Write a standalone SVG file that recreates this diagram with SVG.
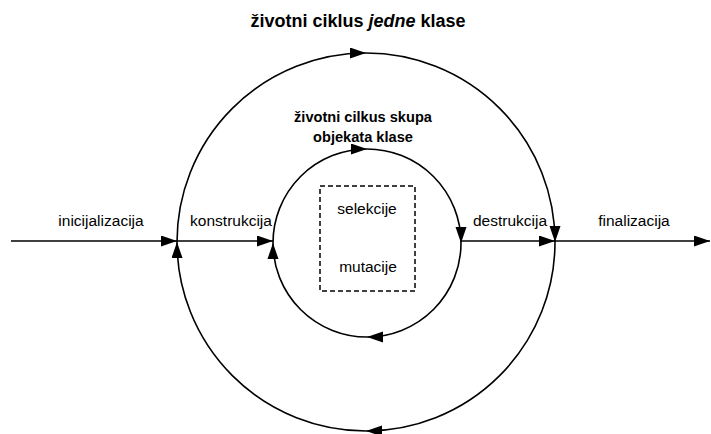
<svg xmlns="http://www.w3.org/2000/svg" width="711" height="434" viewBox="0 0 711 434">
<style>
text{font-family:"Liberation Sans",Arial,sans-serif;fill:#000}
.lbl{font-size:15.5px;text-anchor:middle}
.ttl{font-weight:bold;text-anchor:middle}
.ln{fill:none;stroke:#000;stroke-width:1.6}
</style>
<defs>
<marker id="ah" markerUnits="userSpaceOnUse" markerWidth="18" markerHeight="12" refX="16" refY="5.5" orient="auto">
<path d="M0,0 L16,5.5 L0,11 z" fill="#000"/>
</marker>
</defs>
<rect width="711" height="434" fill="#fff"/>
<g id="title"><text class="ttl" x="358" y="27" font-size="18">životni ciklus <tspan font-style="italic">jedne</tspan> klase</text></g>
<g id="connectors">
<path class="ln" marker-end="url(#ah)" d="M177,242 A189,189 0 0 1 366,53"/>
<path class="ln" marker-end="url(#ah)" d="M366,53 A189,189 0 0 1 555,242"/>
<path class="ln" marker-end="url(#ah)" d="M555,242 A189,189 0 0 1 366,431"/>
<path class="ln" marker-end="url(#ah)" d="M366,431 A189,189 0 0 1 177,242"/>
<path class="ln" marker-end="url(#ah)" d="M273,243 A94,94 0 0 1 367,149"/>
<path class="ln" marker-end="url(#ah)" d="M367,149 A94,94 0 0 1 461,243"/>
<path class="ln" marker-end="url(#ah)" d="M461,243 A94,94 0 0 1 367,337"/>
<path class="ln" marker-end="url(#ah)" d="M367,337 A94,94 0 0 1 273,243"/>
<path class="ln" marker-end="url(#ah)" d="M11,241 L177,241"/>
<path class="ln" marker-end="url(#ah)" d="M177,241 L273,241"/>
<path class="ln" marker-end="url(#ah)" d="M461,241 L555,241"/>
<path class="ln" marker-end="url(#ah)" d="M555,241 L710,241"/>
</g>
<g id="inner-title"><text class="ttl" x="363" y="122" font-size="14.6">životni cilkus skupa</text><text class="ttl" x="363" y="142" font-size="14.6">objekata klase</text></g>
<g id="box">
<rect x="320" y="186" width="95" height="105" fill="none" stroke="#000" stroke-width="1.5" stroke-dasharray="5,3"/>
<text class="lbl" x="367" y="214">selekcije</text>
<text class="lbl" x="368" y="272">mutacije</text>
</g>
<g id="lbl-init"><text class="lbl" x="101" y="226">inicijalizacija</text></g>
<g id="lbl-konst"><text class="lbl" x="231" y="226">konstrukcija</text></g>
<g id="lbl-destr"><text class="lbl" x="510" y="226">destrukcija</text></g>
<g id="lbl-final"><text class="lbl" x="634" y="226">finalizacija</text></g>
</svg>
